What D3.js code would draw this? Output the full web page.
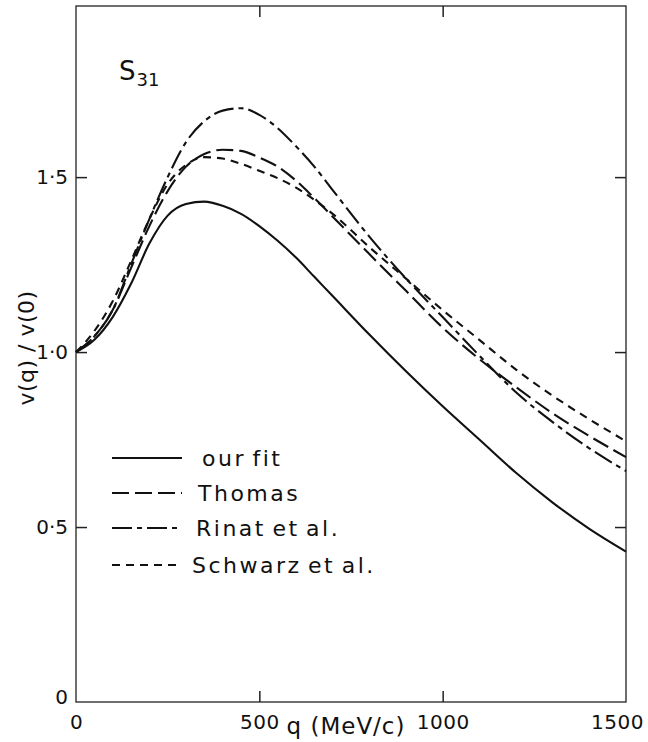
<!DOCTYPE html>
<html>
<head>
<meta charset="utf-8">
<script src="https://cdn.jsdelivr.net/npm/d3@7"></script>
<style>
  html, body { margin: 0; padding: 0; background: #fff; }
  svg { display: block; }
  text { font-family: "DejaVu Sans", sans-serif; fill: #111; }
</style>
</head>
<body>
<svg id="chart" width="648" height="742"></svg>
<script>
// Momentum grid (MeV/c) shared by all curves
const qValues = [0, 50, 100, 150, 200, 250, 300, 350, 400, 450, 500, 550, 600, 650, 700, 800, 900, 1000, 1100, 1200, 1300, 1400, 1500];

// v(q)/v(0) for each model
const ourFit  = [1.0, 1.035, 1.10, 1.195, 1.31, 1.39, 1.423, 1.43, 1.418, 1.395, 1.36, 1.318, 1.27, 1.215, 1.16, 1.05, 0.945, 0.845, 0.75, 0.655, 0.57, 0.495, 0.43];
const thomas  = [1.0, 1.045, 1.12, 1.24, 1.36, 1.46, 1.53, 1.566, 1.578, 1.575, 1.556, 1.53, 1.49, 1.44, 1.387, 1.28, 1.175, 1.07, 0.98, 0.90, 0.825, 0.76, 0.70];
const rinat   = [1.0, 1.045, 1.12, 1.25, 1.38, 1.50, 1.60, 1.66, 1.69, 1.697, 1.678, 1.64, 1.588, 1.53, 1.463, 1.33, 1.21, 1.10, 0.99, 0.885, 0.80, 0.725, 0.66];
const schwarz = [1.0, 1.06, 1.145, 1.26, 1.38, 1.48, 1.535, 1.557, 1.553, 1.538, 1.518, 1.497, 1.47, 1.435, 1.395, 1.30, 1.21, 1.12, 1.035, 0.95, 0.875, 0.808, 0.745];

const seriesNames = ["our fit", "Thomas", "Rinat et al.", "Schwarz et al."];
const seriesDash  = [null, "17,6", "20,5,5,5", "8,6"];

const xTicks = [0, 500, 1000, 1500];
const yTicks = [0, 0.5, 1.0, 1.5];
const yTickLabels = ["0", "0·5", "1·0", "1·5"];

const svg = d3.select("#chart");
const plotLeft = 76, plotRight = 626, plotTop = 6, plotBottom = 702;

const x = d3.scaleLinear().domain([0, 1500]).range([plotLeft, plotRight]);
const y = d3.scaleLinear().domain([0, 1.989]).range([plotBottom, plotTop]);

// Frame
svg.append("rect")
  .attr("x", plotLeft).attr("y", plotTop)
  .attr("width", plotRight - plotLeft).attr("height", plotBottom - plotTop)
  .attr("fill", "none").attr("stroke", "#222").attr("stroke-width", 1.3);

// Inward ticks on all four sides
const inner = [500, 1000];
svg.append("g").attr("transform", `translate(0,${plotBottom})`)
  .call(d3.axisBottom(x).tickValues(xTicks).tickSize(0).tickPadding(13).tickFormat(d3.format("d")))
  .call(g => g.select(".domain").remove())
  .call(g => g.selectAll("text").attr("font-size", 20).attr("letter-spacing", 0.5))
  .call(g => g.selectAll(".tick").filter(d => d === 1500).select("text").attr("dx", -9));

svg.append("g").attr("transform", `translate(0,${plotBottom})`)
  .call(d3.axisTop(x).tickValues(inner).tickSize(11).tickFormat(""))
  .call(g => g.select(".domain").remove())
  .call(g => g.selectAll("line").attr("stroke", "#222").attr("stroke-width", 1.5));

svg.append("g").attr("transform", `translate(0,${plotTop})`)
  .call(d3.axisBottom(x).tickValues(inner).tickSize(11).tickFormat(""))
  .call(g => g.select(".domain").remove())
  .call(g => g.selectAll("line").attr("stroke", "#222").attr("stroke-width", 1.5));

svg.append("g").attr("transform", `translate(${plotLeft},0)`)
  .call(d3.axisRight(y).tickValues([0.5, 1.0, 1.5]).tickSize(11).tickFormat(""))
  .call(g => g.select(".domain").remove())
  .call(g => g.selectAll("line").attr("stroke", "#222").attr("stroke-width", 1.5));

svg.append("g").attr("transform", `translate(${plotLeft},0)`)
  .call(d3.axisLeft(y).tickValues(yTicks).tickSize(0).tickPadding(8)
    .tickFormat((d, i) => yTickLabels[i]))
  .call(g => g.select(".domain").remove())
  .call(g => g.selectAll("text").attr("font-size", 20))
  .call(g => g.selectAll(".tick").filter(d => d === 0).select("text").attr("dy", "0.05em"));

svg.append("g").attr("transform", `translate(${plotRight},0)`)
  .call(d3.axisLeft(y).tickValues([0.5, 1.0, 1.5]).tickSize(11).tickFormat(""))
  .call(g => g.select(".domain").remove())
  .call(g => g.selectAll("line").attr("stroke", "#222").attr("stroke-width", 1.5));

// Axis titles
svg.append("text")
  .attr("x", 346).attr("y", 734)
  .attr("text-anchor", "middle").attr("font-size", 23).attr("letter-spacing", 1)
  .text("q (MeV/c)");

svg.append("text")
  .attr("transform", "translate(34,348) rotate(-90)")
  .attr("text-anchor", "middle").attr("font-size", 22).attr("letter-spacing", 0.5)
  .text("v(q) / v(0)");

// Partial-wave label
const title = svg.append("text").attr("x", 119).attr("y", 80).attr("font-size", 26);
title.append("tspan").text("S");
title.append("tspan").attr("font-size", 18).attr("dy", 6).attr("dx", 1).text("31");

// Curves
const allSeries = [ourFit, thomas, rinat, schwarz];
const line = d3.line()
  .x((d, i) => x(qValues[i]))
  .y(d => y(d))
  .curve(d3.curveMonotoneX);

allSeries.forEach((vals, k) => {
  svg.append("path")
    .datum(vals)
    .attr("d", line)
    .attr("fill", "none")
    .attr("stroke", "#111")
    .attr("stroke-width", 2.1)
    .attr("stroke-dasharray", seriesDash[k]);
});

// Legend
const legendY = [458, 493, 528, 565];
const legendTextX = [202, 198, 196, 192];
seriesNames.forEach((name, k) => {
  svg.append("line")
    .attr("x1", 112).attr("x2", 182)
    .attr("y1", legendY[k]).attr("y2", legendY[k])
    .attr("stroke", "#111").attr("stroke-width", 2.1)
    .attr("stroke-dasharray", seriesDash[k]);
  svg.append("text")
    .attr("x", legendTextX[k]).attr("y", legendY[k] + 8)
    .attr("font-size", 22).attr("letter-spacing", 2.5).attr("word-spacing", -3)
    .text(name);
});
</script>
</body>
</html>
